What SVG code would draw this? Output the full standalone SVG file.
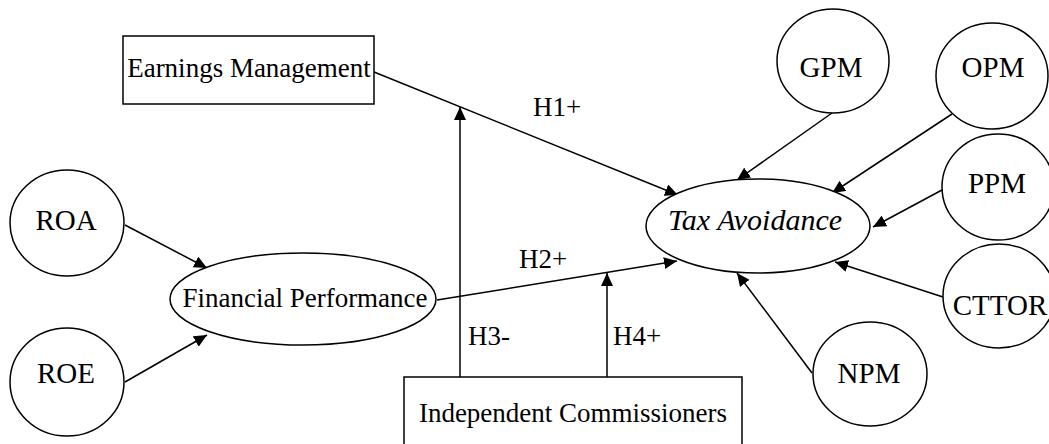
<svg xmlns="http://www.w3.org/2000/svg" width="1049" height="444" viewBox="0 0 1049 444">
<style>
.shape{fill:#fff;stroke:#000;stroke-width:1.5}
.edge{fill:none;stroke:#000;stroke-width:1.5}
text{font-family:"Liberation Serif","Tinos","Times New Roman",Times,"DejaVu Serif",serif;font-size:27px;fill:#000}
.c{text-anchor:middle}
.ac{font-size:29px}
.it{font-style:italic;font-size:30px}
</style>
<defs>
<marker id="arr" viewBox="0 0 13 12" refX="13" refY="6" markerWidth="13" markerHeight="12" markerUnits="userSpaceOnUse" orient="auto">
<path d="M0,0 L13,6 L0,12 Z" fill="#000"/>
</marker>
</defs>
<rect width="1049" height="444" fill="#fff"/>
<g id="connectors">
<line class="edge" x1="374" y1="72" x2="678" y2="195" marker-end="url(#arr)"/>
<line class="edge" x1="437" y1="300" x2="677" y2="261" marker-end="url(#arr)"/>
<line class="edge" x1="460" y1="377" x2="460" y2="107" marker-end="url(#arr)"/>
<line class="edge" x1="607" y1="377" x2="607" y2="273" marker-end="url(#arr)"/>
<line class="edge" x1="125" y1="225" x2="207" y2="268" marker-end="url(#arr)"/>
<line class="edge" x1="125" y1="382" x2="207" y2="335" marker-end="url(#arr)"/>
<line class="edge" x1="832" y1="113" x2="737" y2="180" marker-end="url(#arr)"/>
<line class="edge" x1="952" y1="114" x2="832" y2="193" marker-end="url(#arr)"/>
<line class="edge" x1="942" y1="190" x2="873" y2="227" marker-end="url(#arr)"/>
<line class="edge" x1="943" y1="297" x2="835" y2="262" marker-end="url(#arr)"/>
<line class="edge" x1="812" y1="373" x2="737" y2="273" marker-end="url(#arr)"/>
<text x="533" y="116" font-family="Liberation Serif, serif">H1+</text>
<text x="519" y="268" font-family="Liberation Serif, serif">H2+</text>
<text x="468" y="345" font-family="Liberation Serif, serif">H3-</text>
<text x="613" y="345" font-family="Liberation Serif, serif">H4+</text>
</g>
<g id="earnings">
<rect class="shape" x="123" y="36" width="251" height="68"/>
<text class="c" x="249" y="77" font-family="Liberation Serif, serif">Earnings Management</text>
</g>
<g id="independent">
<rect class="shape" x="404" y="377" width="338" height="80"/>
<text class="c" x="573" y="422" font-family="Liberation Serif, serif">Independent Commissioners</text>
</g>
<g id="financial">
<ellipse class="shape" cx="303" cy="299" rx="133" ry="46"/>
<text class="c" x="305" y="307" font-family="Liberation Serif, serif">Financial Performance</text>
</g>
<g id="tax">
<ellipse class="shape" cx="758" cy="226" rx="112" ry="47"/>
<text class="c it" x="755" y="230" font-family="Liberation Serif, serif">Tax Avoidance</text>
</g>
<g id="roa">
<ellipse class="shape" cx="67" cy="223" rx="57" ry="53"/>
<text class="c ac" x="66" y="230" font-family="Liberation Serif, serif">ROA</text>
</g>
<g id="roe">
<ellipse class="shape" cx="67" cy="382" rx="57" ry="54"/>
<text class="c ac" x="66" y="383" font-family="Liberation Serif, serif">ROE</text>
</g>
<g id="gpm">
<ellipse class="shape" cx="833" cy="61" rx="56" ry="52"/>
<text class="c ac" x="831" y="77" font-family="Liberation Serif, serif">GPM</text>
</g>
<g id="opm">
<ellipse class="shape" cx="992" cy="76" rx="56" ry="53"/>
<text class="c ac" x="993" y="77" font-family="Liberation Serif, serif">OPM</text>
</g>
<g id="ppm">
<ellipse class="shape" cx="998" cy="187" rx="56" ry="53"/>
<text class="c ac" x="997" y="193" font-family="Liberation Serif, serif">PPM</text>
</g>
<g id="cttor">
<ellipse class="shape" cx="999" cy="296" rx="56" ry="52"/>
<text class="c ac" x="1000" y="315" font-family="Liberation Serif, serif">CTTOR</text>
</g>
<g id="npm">
<ellipse class="shape" cx="870" cy="374" rx="57" ry="52"/>
<text class="c ac" x="869" y="383" font-family="Liberation Serif, serif">NPM</text>
</g>
</svg>
